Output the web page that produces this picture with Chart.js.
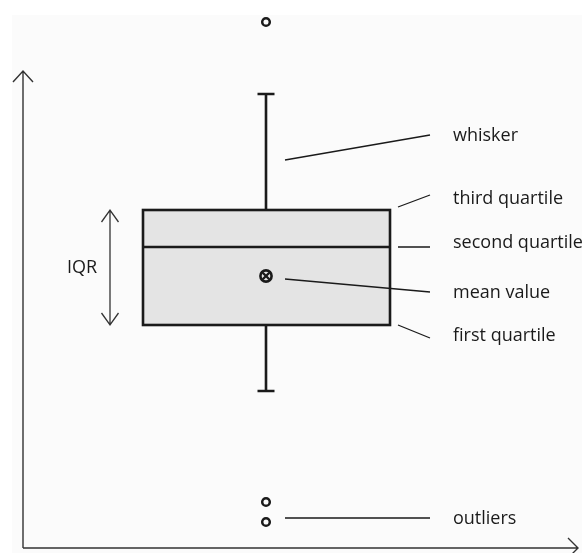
<!DOCTYPE html>
<html lang="en">
<head>
    <meta charset="UTF-8">
    <title>Box plot anatomy</title>
    <script src="https://cdn.jsdelivr.net/npm/chart.js"></script>
    <style>
        body { margin: 0; background: #fff; }
    </style>
</head>
<body>
    <canvas id="boxChart" width="582" height="553"></canvas>

    <script>
        // values (10 px per unit)
        var boxCenter = 24.3;
        var quartiles = [22.3, 30.1, 33.8];      // first, second, third
        var whiskers = [15.7, 45.4];             // low, high
        var meanValue = [27.2];
        var outliers = [52.6, 4.6, 2.6];

        // callout labels and their leader lines
        var labels = ['whisker', 'third quartile', 'second quartile', 'mean value', 'first quartile', 'outliers'];
        var labelY = [41.2, 34.9, 30.5, 25.5, 21.2, 2.9];
        var leaderFrom = [[26.2, 38.8], [37.5, 34.1], [37.5, 30.1], [26.2, 26.9], [37.5, 22.3], [26.2, 3.0]];
        var leaderTo = [[40.7, 41.3], [40.7, 35.3], [40.7, 30.1], [40.7, 25.6], [40.7, 21.0], [40.7, 3.0]];
        var labelX = 43.0;
        var iqrX = 8.7;

        var ink = '#1a1a1a';
        var font = '18px "Open Sans", sans-serif';

        var leaderData = [];
        leaderFrom.forEach(function(p, i) {
            leaderData.push({x: p[0], y: p[1]});
            leaderData.push({x: leaderTo[i][0], y: leaderTo[i][1]});
            leaderData.push({x: leaderTo[i][0], y: null});
        });

        var boxPlugin = {
            id: 'boxPlugin',
            beforeDraw: function(chart) {
                var ctx = chart.ctx;
                ctx.save();
                ctx.fillStyle = '#fff';
                ctx.fillRect(0, 0, chart.width, chart.height);
                ctx.fillStyle = '#fbfbfb';
                ctx.fillRect(12, 15, chart.width - 12, chart.height - 15);
                ctx.restore();
            },
            beforeDatasetsDraw: function(chart) {
                var ctx = chart.ctx;
                var xs = chart.scales.x, ys = chart.scales.y;
                var cx = xs.getPixelForValue(boxCenter);
                var left = cx - 123, right = cx + 124;
                var q1 = ys.getPixelForValue(quartiles[0]);
                var q2 = ys.getPixelForValue(quartiles[1]);
                var q3 = ys.getPixelForValue(quartiles[2]);
                var wLo = ys.getPixelForValue(whiskers[0]);
                var wHi = ys.getPixelForValue(whiskers[1]);
                ctx.save();

                // axes with open arrow heads
                var ax = xs.getPixelForValue(0), ay = ys.getPixelForValue(0);
                var tipX = xs.getPixelForValue(55.6) - 1, tipY = 71;
                ctx.strokeStyle = '#333';
                ctx.lineWidth = 1.4;
                ctx.beginPath();
                ctx.moveTo(ax, ay); ctx.lineTo(ax, tipY);
                ctx.moveTo(ax, ay); ctx.lineTo(tipX, ay);
                ctx.moveTo(ax - 10, tipY + 11); ctx.lineTo(ax, tipY); ctx.lineTo(ax + 10, tipY + 11);
                ctx.moveTo(tipX - 10, ay - 10); ctx.lineTo(tipX, ay); ctx.lineTo(tipX - 10, ay + 10);
                ctx.stroke();

                // whiskers
                ctx.strokeStyle = ink;
                ctx.lineWidth = 2.6;
                ctx.beginPath();
                ctx.moveTo(cx, q3); ctx.lineTo(cx, wHi);
                ctx.moveTo(cx - 8.5, wHi); ctx.lineTo(cx + 8.5, wHi);
                ctx.moveTo(cx, q1); ctx.lineTo(cx, wLo);
                ctx.moveTo(cx - 8.5, wLo); ctx.lineTo(cx + 8.5, wLo);
                ctx.stroke();

                // box
                ctx.fillStyle = '#e4e4e4';
                ctx.fillRect(left, q3, right - left, q1 - q3);
                ctx.strokeRect(left, q3, right - left, q1 - q3);
                ctx.beginPath();
                ctx.moveTo(left, q2); ctx.lineTo(right, q2);
                ctx.stroke();

                // IQR double arrow
                var ix = xs.getPixelForValue(iqrX);
                ctx.strokeStyle = '#333';
                ctx.lineWidth = 1.3;
                ctx.beginPath();
                ctx.moveTo(ix, q3); ctx.lineTo(ix, q1);
                ctx.moveTo(ix - 8.5, q3 + 12); ctx.lineTo(ix, q3); ctx.lineTo(ix + 8.5, q3 + 12);
                ctx.moveTo(ix - 8.5, q1 - 12); ctx.lineTo(ix, q1); ctx.lineTo(ix + 8.5, q1 - 12);
                ctx.stroke();
                ctx.restore();
            },
            afterDatasetsDraw: function(chart) {
                var ctx = chart.ctx;
                var xs = chart.scales.x, ys = chart.scales.y;
                ctx.save();
                ctx.font = font;
                ctx.fillStyle = ink;
                ctx.textBaseline = 'middle';
                labels.forEach(function(t, i) {
                    ctx.fillText(t, xs.getPixelForValue(labelX), ys.getPixelForValue(labelY[i]));
                });
                ctx.textAlign = 'center';
                ctx.fillText('IQR', xs.getPixelForValue(iqrX) - 28, (ys.getPixelForValue(quartiles[0]) + ys.getPixelForValue(quartiles[2])) / 2);
                ctx.restore();
            }
        };

        var ctx = document.getElementById('boxChart').getContext('2d');
        var boxChart = new Chart(ctx, {
            type: 'scatter',
            data: {
                datasets: [{
                    label: 'leaders',
                    data: leaderData,
                    showLine: true,
                    spanGaps: false,
                    borderColor: ink,
                    borderWidth: 1.3,
                    pointRadius: 0
                }, {
                    label: 'outliers',
                    data: outliers.map(function(v) { return {x: boxCenter, y: v}; }),
                    pointStyle: 'circle',
                    pointRadius: 3.8,
                    borderWidth: 2.5,
                    borderColor: ink,
                    backgroundColor: 'rgba(0,0,0,0)'
                }, {
                    label: 'mean circle',
                    data: meanValue.map(function(v) { return {x: boxCenter, y: v}; }),
                    pointStyle: 'circle',
                    pointRadius: 5.6,
                    borderWidth: 2.6,
                    borderColor: ink,
                    backgroundColor: 'rgba(0,0,0,0)'
                }, {
                    label: 'mean cross',
                    data: meanValue.map(function(v) { return {x: boxCenter, y: v}; }),
                    pointStyle: 'crossRot',
                    pointRadius: 4.6,
                    borderWidth: 2.4,
                    borderColor: ink
                }]
            },
            options: {
                responsive: false,
                animation: false,
                clip: false,
                layout: { autoPadding: false, padding: { left: 23, right: 3, top: 18, bottom: 5 } },
                plugins: {
                    legend: { display: false },
                    tooltip: { enabled: false }
                },
                scales: {
                    x: { type: 'linear', min: 0, max: 55.6, display: false },
                    y: { type: 'linear', min: 0, max: 53, display: false }
                }
            },
            plugins: [boxPlugin]
        });
    </script>
</body>
</html>
